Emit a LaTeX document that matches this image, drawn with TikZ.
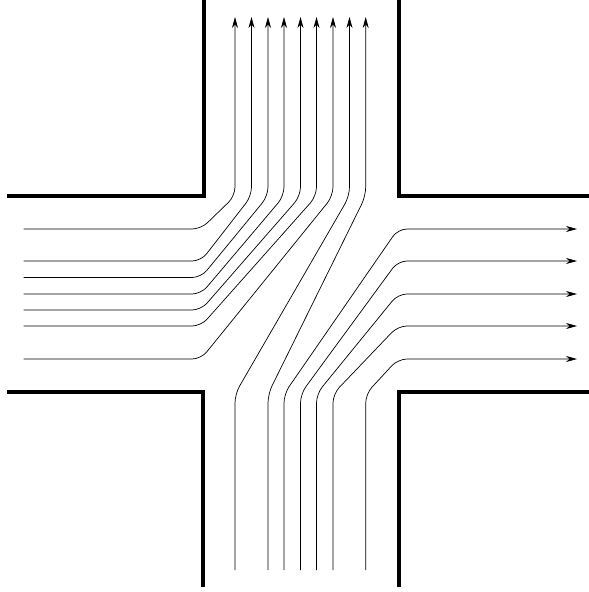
\documentclass[tikz,border=0pt]{standalone}
\usetikzlibrary{arrows.meta}

\tikzset{
  wall/.style={line width=4pt},
  flow/.style={line width=0.7pt, rounded corners=9pt},
  stream/.style={flow, -{Stealth[length=11pt,width=6pt,inset=3.5pt]}}
}

\begin{document}
\begin{tikzpicture}[x=1pt, y=-1pt]
\useasboundingbox (0,0) rectangle (589,592);

% walls
\draw[wall] (204,0)--(204,195.5)--(7,195.5);
\draw[wall] (399,0)--(399,195.5)--(589,195.5);
\draw[wall] (7,392)--(203,392)--(203,587);
\draw[wall] (589,392)--(398.5,392)--(398.5,587);

% from the left, turning up
\draw[stream] (23.5,229)--(201,229)--(235,196)--(235,17);
\draw[stream] (23.5,261)--(201,261)--(251.5,196)--(251.5,17);
\draw[stream] (23.5,277.5)--(201,277.5)--(268,196)--(268,17);
\draw[stream] (23.5,294)--(201,294)--(284,196)--(284,17);
\draw[stream] (23.5,310)--(201,310)--(300.5,196)--(300.5,17);
\draw[stream] (23.5,326)--(201,326)--(316.5,196)--(316.5,17);
\draw[stream] (23.5,359)--(201,359)--(333,196)--(333,17);

% from the bottom, turning up
\draw[stream] (235,570)--(235,394)--(349.5,196)--(349.5,17);
\draw[stream] (268,570)--(268,394)--(365.7,196)--(365.7,17);

% from the bottom, turning right
\draw[stream] (284,570)--(284,394)--(398,229)--(577,229);
\draw[stream] (300.5,570)--(300.5,394)--(398,261)--(577,261);
\draw[stream] (316.5,570)--(316.5,394)--(398,294)--(577,294);
\draw[stream] (333,570)--(333,394)--(398,326)--(577,326);
\draw[stream] (365.7,570)--(365.7,394)--(398,359)--(577,359);
\end{tikzpicture}
\end{document}
